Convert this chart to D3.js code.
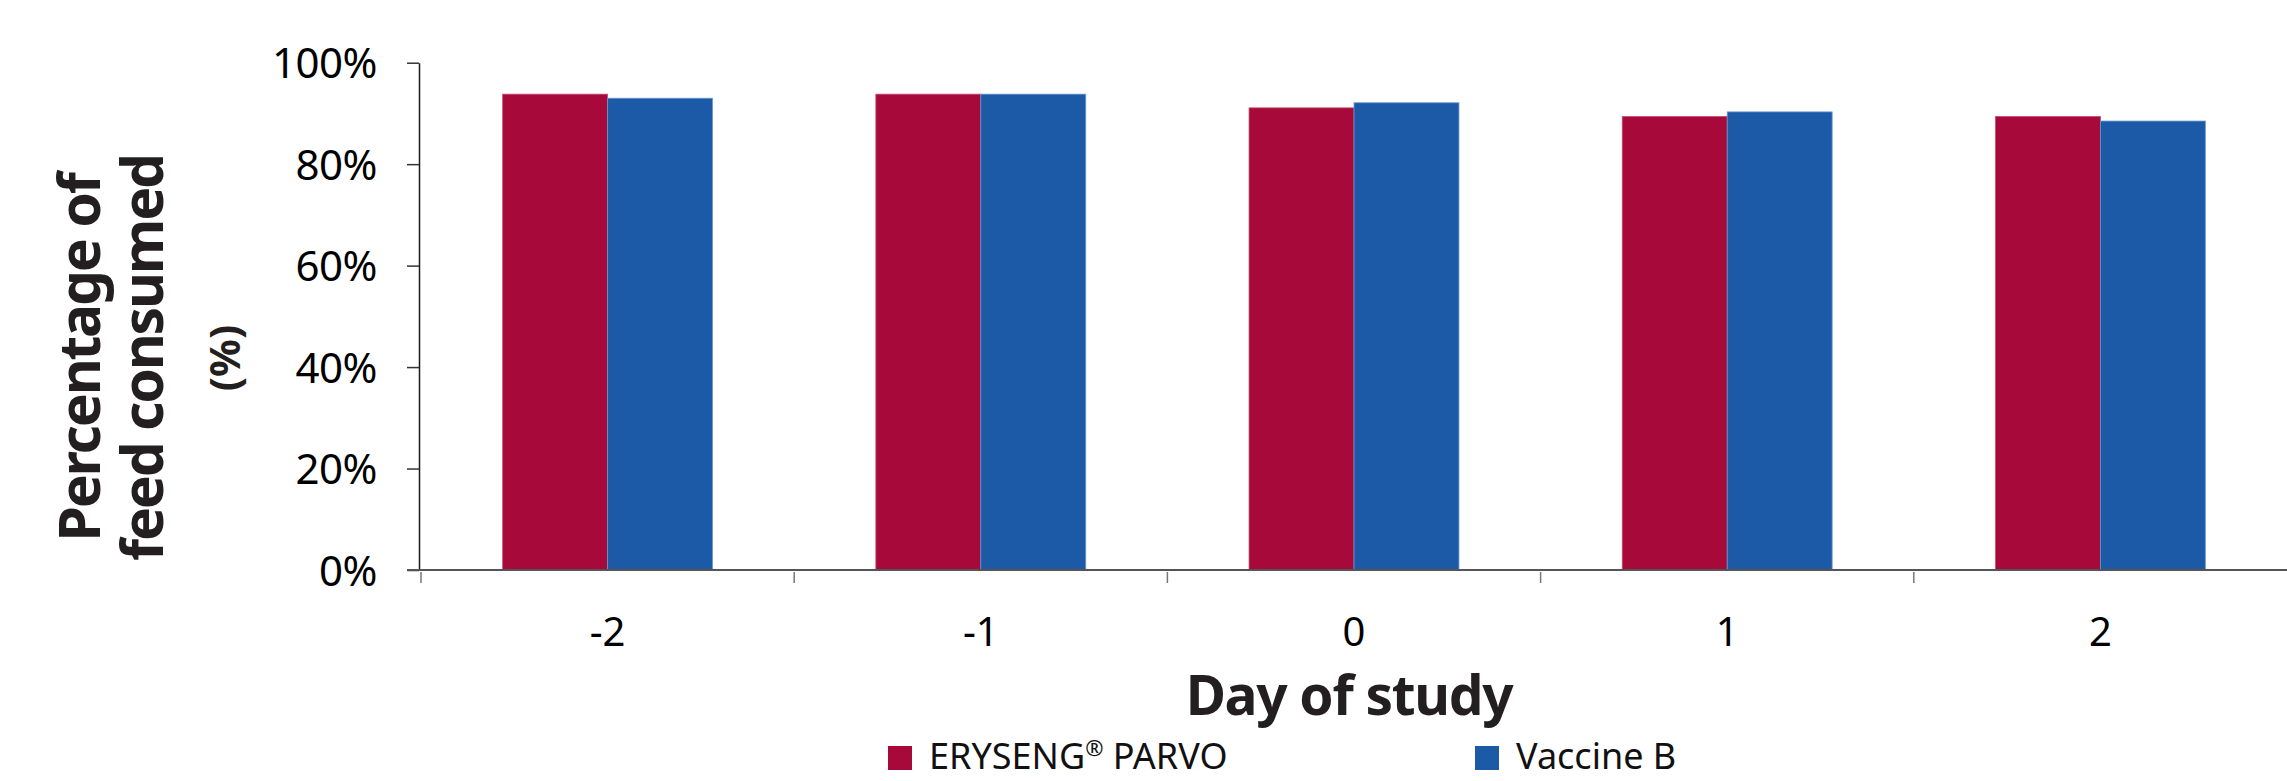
<!DOCTYPE html>
<html>
<head>
<meta charset="utf-8">
<script src="https://cdn.jsdelivr.net/npm/d3@7"></script>
<style>
  html, body { margin: 0; padding: 0; background: #fff; }
  svg { display: block; }
  text { font-family: "Noto Sans", "Open Sans", sans-serif; }
</style>
</head>
<body>
<svg id="chart" width="2287" height="781"></svg>
<script>
// ---- data ----
const categories = ["-2", "-1", "0", "1", "2"];
const seriesNames = ["ERYSENG® PARVO", "Vaccine B"];
const erysengValues = [0.938, 0.938, 0.911, 0.894, 0.894];
const vaccineBValues = [0.930, 0.938, 0.921, 0.903, 0.885];
const yTickValues = [0, 0.2, 0.4, 0.6, 0.8, 1.0];
const seriesColors = ["#A8093B", "#1C5AA8"];
const seriesStrokes = ["#C24F70", "#6C97CF"];

const table = categories.map((c, i) => ({
  day: c,
  values: [
    { key: seriesNames[0], value: erysengValues[i] },
    { key: seriesNames[1], value: vaccineBValues[i] }
  ]
}));

// ---- layout ----
const svg = d3.select("#chart");
const yAxisX = 419;
const plotTop = 62.7;
const plotBottom = 570;
const xStart = 421;
const xEnd = 2287;

const y = d3.scaleLinear().domain([0, 1]).range([plotBottom, plotTop]);
const x = d3.scaleBand().domain(categories).range([xStart, xEnd]).paddingInner(0).paddingOuter(0);
const x1 = d3.scaleBand().domain(seriesNames).range([0, x.bandwidth()]).paddingInner(0).paddingOuter(0.778);
const color = d3.scaleOrdinal().domain(seriesNames).range(seriesColors);
const stroke = d3.scaleOrdinal().domain(seriesNames).range(seriesStrokes);

// ---- bars ----
const groups = svg.append("g").selectAll("g")
  .data(table).join("g")
  .attr("transform", d => `translate(${x(d.day)},0)`);

groups.selectAll("rect")
  .data(d => d.values).join("rect")
  .attr("x", d => x1(d.key))
  .attr("y", d => y(d.value))
  .attr("width", x1.bandwidth())
  .attr("height", d => y(0) - y(d.value))
  .attr("fill", d => color(d.key))
  .attr("stroke", d => stroke(d.key))
  .attr("stroke-width", 0.8);

// ---- y axis ----
const yAxis = svg.append("g")
  .attr("transform", `translate(${yAxisX},0)`)
  .call(d3.axisLeft(y).tickValues(yTickValues).tickFormat(d3.format(".0%")).tickSize(12).tickSizeOuter(0).tickPadding(30));
yAxis.select(".domain").attr("stroke", "#1a1a1a").attr("stroke-width", 1.5);
yAxis.selectAll(".tick line").attr("stroke", "#333").attr("stroke-width", 1.5);
yAxis.selectAll(".tick text")
  .attr("font-size", 42).attr("fill", "#000")
  .attr("font-family", "'Noto Sans', sans-serif")
  .attr("letter-spacing", -0.5)
  .attr("dy", "0.36em");

// ---- x axis ----
const xAxis = svg.append("g")
  .attr("transform", `translate(0,${plotBottom})`)
  .call(d3.axisBottom(x).tickSize(0).tickSizeOuter(0));
xAxis.select(".domain").remove();
xAxis.selectAll(".tick text")
  .attr("y", 76).attr("dy", null)
  .attr("font-size", 40).attr("fill", "#000")
  .attr("font-family", "'Noto Sans', sans-serif");

// baseline (extends left to the y tick length)
svg.append("line")
  .attr("x1", yAxisX - 12).attr("x2", xEnd)
  .attr("y1", plotBottom).attr("y2", plotBottom)
  .attr("stroke", "#555").attr("stroke-width", 2);

// separator ticks at band boundaries
svg.append("g").selectAll("line")
  .data(categories).join("line")
  .attr("x1", d => x(d)).attr("x2", d => x(d))
  .attr("y1", plotBottom + 2).attr("y2", plotBottom + 13)
  .attr("stroke", "#777").attr("stroke-width", 1.5);

// ---- axis titles ----
const titleColor = "#231F20";
const yTitleCenter = 358;
const yTitle = svg.append("g").attr("fill", titleColor).attr("font-weight", "bold").attr("text-anchor", "middle");
yTitle.append("text")
  .attr("transform", `translate(100,${yTitleCenter}) rotate(-90)`)
  .attr("font-size", 57).attr("letter-spacing", -2.2)
  .text("Percentage of");
yTitle.append("text")
  .attr("transform", `translate(163,${yTitleCenter}) rotate(-90)`)
  .attr("font-size", 57).attr("letter-spacing", -2.2)
  .text("feed consumed");
yTitle.append("text")
  .attr("transform", `translate(240,${yTitleCenter}) rotate(-90)`)
  .attr("font-size", 42)
  .text("(%)");

svg.append("text")
  .attr("x", 1349).attr("y", 715)
  .attr("text-anchor", "middle")
  .attr("font-weight", "bold").attr("font-size", 55).attr("letter-spacing", -1.3)
  .attr("fill", titleColor)
  .text("Day of study");

// ---- legend ----
const legendX = [888, 1475];
const legend = svg.append("g").selectAll("g")
  .data(seriesNames).join("g")
  .attr("transform", (d, i) => `translate(${legendX[i]},746)`);
legend.append("rect")
  .attr("width", 24).attr("height", 24)
  .attr("fill", d => color(d));
const legendText = legend.append("text")
  .attr("x", 41).attr("y", 23)
  .attr("font-size", 36).attr("fill", "#111");
legendText.each(function(d) {
  const parts = d.split("®");
  const t = d3.select(this);
  t.append("tspan").text(parts[0]);
  if (parts.length > 1) {
    t.append("tspan").attr("font-size", 22).attr("dy", -13).text("®");
    t.append("tspan").attr("dy", 13).text(parts[1]);
  }
});
</script>
</body>
</html>
